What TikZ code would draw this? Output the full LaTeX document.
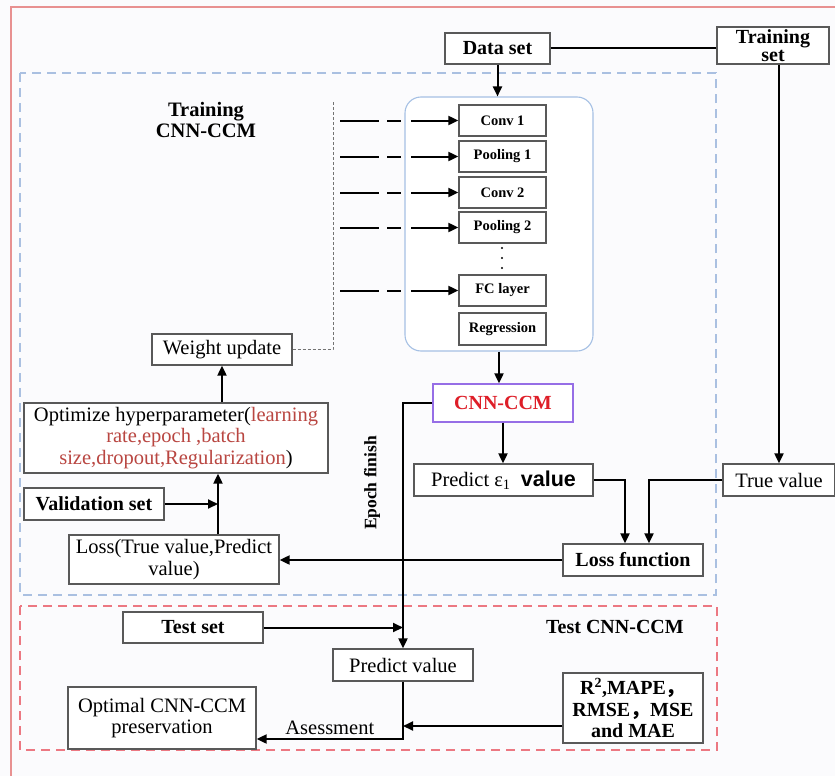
\documentclass[tikz,border=0pt]{standalone}
\usepackage{fontspec}
\setmainfont{Liberation Serif}
\setsansfont{Liberation Sans}
\newfontfamily\cjk{Noto Sans CJK SC}
\usepackage{xcolor}
\usetikzlibrary{arrows.meta}

\definecolor{frameRed}{RGB}{232,145,145}
\definecolor{trainBlue}{RGB}{170,192,225}
\definecolor{testRed}{RGB}{236,120,130}
\definecolor{stackBlue}{RGB}{165,192,228}
\definecolor{ccmPurple}{RGB}{150,110,230}
\definecolor{ccmRed}{RGB}{222,30,40}
\definecolor{hypRed}{RGB}{185,70,65}
\definecolor{bgGrey}{RGB}{251,251,253}

\begin{document}
\begin{tikzpicture}[x=1pt,y=1pt,yscale=-1,xscale=1,
    box/.style={draw=black!65,line width=1.3pt,fill=white,inner sep=1pt,align=center,font=\fontsize{20.5}{21.5}\selectfont},
    boldbox/.style={box,font=\fontsize{20}{21.5}\selectfont\bfseries},
    layer/.style={box,minimum width=87,minimum height=31,font=\fontsize{14.5}{16}\selectfont\bfseries},
    arr/.style={line width=2pt,-{Triangle[length=10pt,width=9pt]}},
    ln/.style={line width=2pt},
    dasharr/.style={arr,dash pattern=on 39pt off 8pt on 14pt off 10pt on 60pt off 0pt}
  ]
  \useasboundingbox (0,0) rectangle (835,776);
  \fill[bgGrey] (0,0) rectangle (835,776);

  %Shape: outer frame
  \draw[frameRed,line width=1.4pt] (835,7) -- (11,7) -- (11,776);
  %Shape: training region
  \draw[trainBlue,line width=1.1pt,dash pattern=on 9pt off 6pt] (20,73) rectangle (716,595);
  %Shape: test region
  \draw[testRed,line width=1.1pt,dash pattern=on 9pt off 6pt] (20,606) rectangle (717,750);

  % Text Node
  \draw (206,120) node (trainlbl) [align=center,font=\fontsize{20.5}{21}\selectfont\bfseries] {Training\\CNN-CCM};
  % Text Node
  \draw (615,627) node (testlbl) [font=\fontsize{20}{21}\selectfont\bfseries] {Test CNN-CCM};

  %Shape: Data set and Training set
  \draw (497.5,48.5) node (dataset) [boldbox,minimum width=105,minimum height=31] {Data set};
  \draw (773,45.5) node (trainset) [boldbox,minimum width=112,minimum height=37,inner ysep=0pt,font=\fontsize{20}{18.5}\selectfont\bfseries] {Training\\set};

  %Shape: CNN stack
  \draw (499,224) node (stack) [draw=stackBlue,line width=1.1pt,rounded corners=16pt,fill=white,minimum width=188,minimum height=254] {};
  \draw (502.5,120.5) node (conv1) [layer] {Conv 1};
  \draw (502.5,156.5) node (pool1) [layer] {Pooling 1};
  \draw (502.5,192.5) node (conv2) [layer] {Conv 2};
  \draw (502.5,227.5) node (pool2) [layer] {Pooling 2};
  \draw (502.5,290.5) node (fc) [layer] {FC layer};
  \draw (502.5,329) node (regr) [layer,minimum height=32] {Regression};
  \foreach \d in {248,258,268}
    \fill (502,\d) circle (1.2pt);

  %Shape: left column
  \draw (222,349.5) node (weight) [box,minimum width=140,minimum height=31] {Weight update};
  \draw (176,438) node (optim) [box,minimum width=304,minimum height=70] {Optimize hyperparameter(\textcolor{hypRed}{learning}\\\textcolor{hypRed}{rate,epoch ,batch}\\\textcolor{hypRed}{size,dropout,Regularization})};
  \draw (94,504) node (valid) [boldbox,minimum width=140,minimum height=32] {Validation set};
  \draw (174,559.5) node (lossb) [box,minimum width=210,minimum height=49] {Loss(True value,Predict\\value)};

  %Shape: middle column
  \draw (503,403) node (ccm) [box,draw=ccmPurple,minimum width=140,minimum height=38,text=ccmRed,font=\fontsize{20}{21}\selectfont\bfseries] {CNN-CCM};
  \draw (503.5,480) node (predeps) [box,minimum width=179,minimum height=32] {Predict ε\textsubscript{1}\ \ {\sffamily\bfseries\fontsize{21.5}{22}\selectfont value}};
  \draw (779,480) node (truev) [box,minimum width=112,minimum height=32] {True value};
  \draw (633,560) node (lossf) [boldbox,minimum width=140,minimum height=32] {Loss function};
  \draw (372,483) node (epoch) [rotate=90,font=\fontsize{17.5}{17}\selectfont\bfseries] {Epoch finish};

  %Shape: test column
  \draw (193,627.5) node (testset) [boldbox,minimum width=140,minimum height=31] {Test set};
  \draw (403,665) node (predv) [box,minimum width=140,minimum height=32] {Predict value};
  \draw (162,718) node (optimal) [box,minimum width=188,minimum height=62] {Optimal CNN-CCM\\preservation};
  \draw (633,708) node (metrics) [boldbox,minimum width=140,minimum height=70] {R\textsuperscript{2},MAPE{\cjk ，}\\RMSE{\cjk ，}MSE\\and MAE};

  %Straight Lines: data flow
  \draw[ln] (dataset.east) -- (dataset.east -| trainset.west);
  \draw[arr] (dataset.south) -- (dataset.south |- stack.north);
  \coordinate (wsrc) at (340,0);
  \foreach \n in {conv1,pool1,conv2,pool2,fc}
    \draw[dasharr] (wsrc |- \n.west) -- (\n.west);
  \coordinate (wtop) at (333,101);
  \draw[black!55,line width=1pt,dash pattern=on 3pt off 2pt] (weight.east) -| (wtop);

  \draw[arr] (weight.south |- optim.north) -- (weight.south);
  \coordinate (vcol) at (218,0);
  \draw[arr] (vcol |- lossb.north) -- (vcol |- optim.south);
  \draw[arr] (valid.east) -- (vcol |- valid.east);

  \draw[arr] (stack.south) -- (stack.south |- ccm.north);
  \draw[arr] (ccm.west) -| (predv.north);
  \draw[arr] (ccm.south) -- (ccm.south |- predeps.north);
  \draw[arr] (predeps.east) -| ([xshift=-8]lossf.north);
  \draw[arr] (truev.north |- trainset.south) -- (truev.north);
  \draw[arr] (truev.west) -| ([xshift=16]lossf.north);
  \draw[arr] (lossf.west) -- (lossf.west -| lossb.east);

  \draw[arr] (testset.east) -- (testset.east -| predv.north);
  \draw[arr] (predv.south) |- ([yshift=21]optimal.east) node (asmt) [pos=0.75,above,font=\fontsize{20.5}{21}\selectfont] {Asessment};
  \coordinate (mleft) at ([yshift=18]metrics.west);
  \draw[arr] (mleft) -- (mleft -| predv.south);

\end{tikzpicture}
\end{document}
